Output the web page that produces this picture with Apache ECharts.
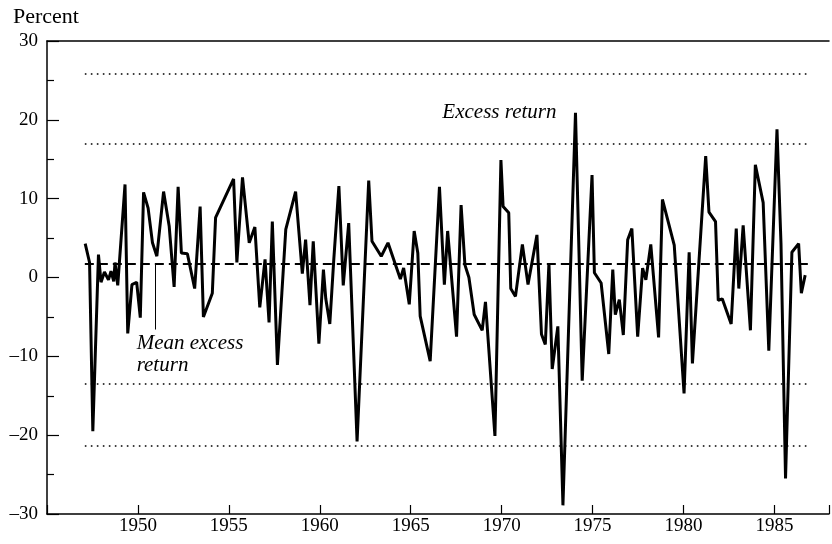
<!DOCTYPE html>
<html><head><meta charset="utf-8">
<script src="https://cdn.jsdelivr.net/npm/echarts@6/dist/echarts.min.js"></script>
<style>html,body{margin:0;padding:0;background:#fff}#c{width:832px;height:544px}</style>
</head><body><div id="c"></div>
<script>
// Quarterly excess return (percent)
const dates = [
1947.10,1947.34,1947.52,1947.83,1947.97,1948.16,1948.38,1948.52,1948.67,1948.74,1948.89,
1949.29,1949.44,1949.67,1949.93,1950.13,1950.31,1950.56,1950.80,1951.04,1951.41,1951.72,1951.99,
1952.21,1952.39,1952.72,1953.12,1953.42,1953.60,1954.09,1954.27,1955.26,1955.44,1955.75,1956.12,
1956.43,1956.70,1956.99,1957.21,1957.39,1957.67,1958.13,1958.67,1959.04,1959.22,1959.46,1959.64,
1959.95,1960.20,1960.33,1960.55,1960.77,1961.05,1961.29,1961.59,1962.05,1962.69,1962.87,1963.38,
1963.75,1964.43,1964.61,1964.92,1965.19,1965.39,1965.52,1966.07,1966.58,1966.85,1967.03,1967.52,
1967.77,1967.98,1968.20,1968.49,1968.93,1969.11,1969.63,1969.96,1970.08,1970.39,1970.50,1970.76,
1971.14,1971.45,1971.94,1972.19,1972.40,1972.60,1972.78,1973.09,1973.37,1974.06,1974.43,1974.97,
1975.10,1975.47,1975.89,1976.11,1976.25,1976.47,1976.69,1976.93,1977.16,1977.48,1977.75,1977.93,
1978.20,1978.63,1978.84,1979.49,1980.03,1980.31,1980.49,1981.22,1981.40,1981.76,1981.91,1982.13,
1982.62,1982.90,1983.04,1983.28,1983.68,1983.95,1984.38,1984.69,1985.14,1985.36,1985.61,1985.96,
1986.33,1986.48,1986.69
];
const excessReturn = [
4.3,1.9,-19.5,2.9,-0.6,0.7,-0.3,0.8,-0.5,1.9,-1.0,
11.8,-7.1,-0.9,-0.6,-5.1,10.8,8.8,4.4,2.7,10.9,6.5,-1.2,
11.5,3.1,3.0,-1.4,9.0,-5.0,-2.0,7.6,12.5,1.9,12.7,4.4,
6.4,-3.8,2.3,-5.7,7.1,-11.1,6.1,10.9,0.5,4.8,-3.5,4.6,
-8.4,1.0,-2.7,-5.9,2.3,11.6,-1.0,6.9,-20.8,12.3,4.6,2.7,
4.4,-0.2,1.2,-3.4,5.9,3.1,-4.9,-10.6,11.5,-0.9,5.9,-7.5,
9.2,1.6,0.0,-4.7,-6.7,-3.1,-20.1,14.9,9.0,8.2,-1.4,-2.4,
4.2,-0.9,5.4,-7.2,-8.5,1.8,-11.6,-6.2,-28.9,20.9,-13.1,13.0,
0.6,-0.7,-9.7,1.0,-4.7,-2.8,-7.3,4.8,6.2,-7.5,1.2,-0.3,
4.2,-7.6,9.9,4.1,-14.7,3.2,-10.9,15.4,8.3,7.1,-2.9,-2.7,
-5.9,6.2,-1.4,6.6,-6.7,14.3,9.5,-9.3,18.8,4.3,-25.5,3.2,
4.3,-2.0,0.3
];
const meanExcessReturn = 1.8;
const bandLevels = [25.8, 17.0, -13.5, -21.3];
const refStart = 1947.08, refEnd = 1986.95;
const xTickLabels = [1950, 1955, 1960, 1965, 1970, 1975, 1980, 1985];
const yRange = [-30, 30];
const leaderLine = {x: 1950.93, from: 1.8, to: -6.6};

const FONT = '"Liberation Serif", "Times New Roman", serif';
const chart = echarts.init(document.getElementById('c'), null, {renderer: 'canvas'});
const seriesData = dates.map((d, i) => [d, excessReturn[i]]);

const markData = [];
bandLevels.forEach(v => markData.push([
  {coord: [refStart, v], lineStyle: {type: [1.6, 4.4], width: 1.6, color: '#000'}},
  {coord: [refEnd, v]}
]));
markData.push([
  {coord: [refStart, meanExcessReturn], lineStyle: {type: [9, 5], width: 1.8, color: '#000'}},
  {coord: [refEnd, meanExcessReturn]}
]);
markData.push([
  {coord: [leaderLine.x, leaderLine.from], lineStyle: {type: 'solid', width: 1, color: '#000'}},
  {coord: [leaderLine.x, leaderLine.to]}
]);

const axisLineStyle = {color: '#000', width: 1.5};
chart.setOption({
  animation: false,
  backgroundColor: '#fff',
  title: {text: 'Percent', left: 8, top: 1,
    textStyle: {fontFamily: FONT, fontSize: 22, fontWeight: 'normal', color: '#000'}},
  grid: {left: 47, right: 0, top: 41, bottom: 30},
  xAxis: [{
    type: 'value', min: 1945, max: 1988, interval: 5,
    axisLine: {show: true, onZero: false, lineStyle: axisLineStyle},
    axisTick: {show: true, inside: false, length: -9, lineStyle: {color: '#000', width: 1.2}},
    axisLabel: {fontFamily: FONT, fontSize: 19, color: '#000', margin: 3,
      formatter: v => xTickLabels.indexOf(v) >= 0 ? String(v) : ''},
    splitLine: {show: false}
  }, {
    type: 'value', position: 'top', min: 1945, max: 1988,
    axisLine: {show: true, onZero: false, lineStyle: axisLineStyle},
    axisTick: {show: false}, axisLabel: {show: false}, splitLine: {show: false}
  }],
  yAxis: {
    type: 'value', min: yRange[0], max: yRange[1], interval: 10,
    axisLine: {show: true, onZero: false, lineStyle: axisLineStyle},
    axisTick: {show: true, inside: false, length: -12, lineStyle: {color: '#000', width: 1.2}},
    minorTick: {show: true, splitNumber: 2, length: -7, lineStyle: {color: '#000', width: 1.2}},
    axisLabel: {fontFamily: FONT, fontSize: 19, color: '#000', margin: 9,
      formatter: v => String(v).replace('-', '\u2013')},
    splitLine: {show: false}
  },
  series: [{
    type: 'line', xAxisIndex: 0, data: seriesData, showSymbol: false, symbol: 'none',
    lineStyle: {color: '#000', width: 3, join: 'bevel'},
    z: 3,
    markLine: {silent: true, symbol: 'none', label: {show: false}, animation: false, data: markData}
  }]
});

function px(x, y) { return chart.convertToPixel({xAxisIndex: 0, yAxisIndex: 0}, [x, y]); }
const pEx = px(1966.74, 20.9), pMean1 = px(1949.93, -8.35), pMean2 = px(1949.93, -11.1);
const annStyle = {fontFamily: FONT, fontSize: 21, fontStyle: 'italic', fill: '#000', verticalAlign: 'middle', align: 'left'};
chart.setOption({
  graphic: [
    {type: 'text', x: pEx[0], y: pEx[1], style: Object.assign({text: 'Excess return'}, annStyle)},
    {type: 'text', x: pMean1[0], y: pMean1[1], style: Object.assign({text: 'Mean excess'}, annStyle)},
    {type: 'text', x: pMean2[0], y: pMean2[1], style: Object.assign({text: 'return'}, annStyle)}
  ]
});
</script></body></html>
